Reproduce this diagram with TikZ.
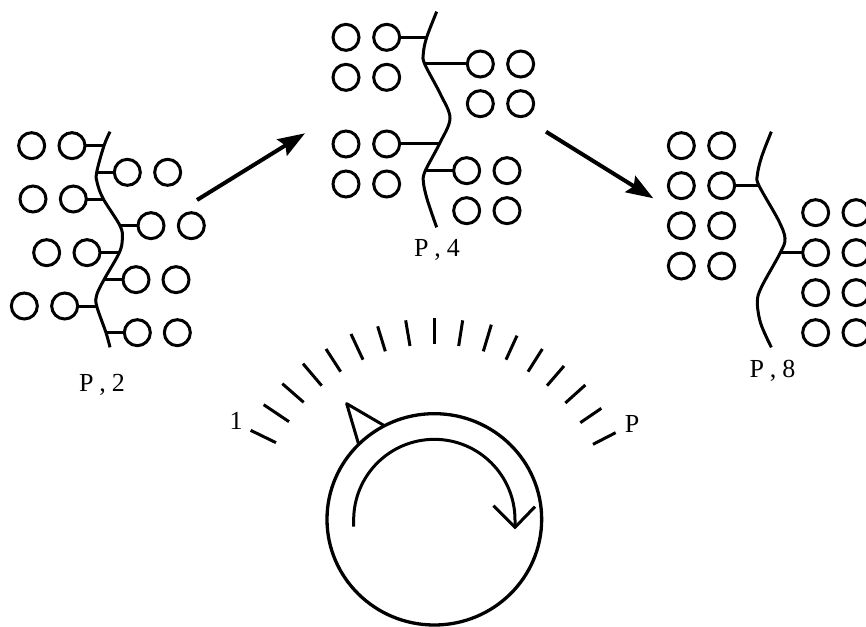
\documentclass[tikz,border=0pt]{standalone}
\usepackage{fontspec}
\setmainfont{Liberation Serif}
\usetikzlibrary{arrows.meta}
\tikzset{
  px/.style={x=1pt,y=-1pt},
  zoomed/.style={x=0.33333pt,y=-0.33333pt},
  line/.style={line width=3pt,line cap=butt,line join=round},
  ball/.style={circle,draw,line width=3pt,inner sep=0pt,outer sep=0pt,minimum size=26pt},
  lbl/.style={font=\fontsize{26}{30}\selectfont,execute at begin node={\spaceskip=6pt\relax},inner sep=0pt,anchor=base},
  bigarrow/.style={line width=4pt,-{Stealth[length=27pt,width=19pt,inset=4pt]}}
}
\begin{document}
\begin{tikzpicture}[px]
\useasboundingbox (0,0) rectangle (866,626);
% --- left panel P,2
\begin{scope}[shift={(0,120)},zoomed]
\foreach \n/\x/\y in {a1/95/77,a2/216/77,a3/382/157,a4/503/157,a5/99/237,a6/220/237,a7/453/317,a8/574/317,
  a9/140/398,a10/261/398,a11/408/479,a12/528/479,a13/73/558,a14/194/558,a15/412/638,a16/532/638}
  \node[ball] (\n) at (\x,\y) {};
\coordinate (as1) at (312,77);
\coordinate (as2) at (290,157);
\coordinate (as3) at (310,237);
\coordinate (as4) at (360,317);
\coordinate (as5) at (358,398);
\coordinate (as6) at (312,479);
\coordinate (as7) at (290,558);
\coordinate (as8) at (318,638);
\draw[line] plot[smooth,tension=0.55] coordinates {(330,35) (as1) (as2) (292,190) (as3) (as4) (367,355) (as5) (as6) (290,525) (as7) (as8) (330,682)};
\draw[line] (a2) -- (as1);
\draw[line] (as2) -- (a3);
\draw[line] (a6) -- (as3);
\draw[line] (as4) -- (a7);
\draw[line] (a10) -- (as5);
\draw[line] (as6) -- (a11);
\draw[line] (a14) -- (as7);
\draw[line] (as8) -- (a15);
\end{scope}
\node[lbl] (l2) at (102,391) {P , 2};
% --- middle panel P,4
\begin{scope}[shift={(320,0)},zoomed]
\foreach \n/\x/\y in {b1/78/112,b2/200/112,b3/78/232,b4/200/232,b5/78/432,b6/200/432,b7/78/552,b8/200/552,
  b9/481/192,b10/602/192,b11/481/311,b12/602/311,b13/440/512,b14/561/512,b15/440/632,b16/561/632}
  \node[ball] (\n) at (\x,\y) {};
\coordinate (bs1) at (320,112);
\coordinate (bs2) at (314,192);
\coordinate (bs3) at (358,432);
\coordinate (bs4) at (316,512);
\draw[line] plot[smooth,tension=0.55] coordinates {(350,35) (bs1) (310,160) (bs2) (360,280) (390,355) (bs3) (bs4) (310,545) (322,600) (350,682)};
\draw[line] (b2) -- (bs1);
\draw[line] (bs2) -- (b9);
\draw[line] (b6) -- (bs3);
\draw[line] (bs4) -- (b13);
\end{scope}
\node[lbl] (l4) at (437,256.5) {P , 4};
% --- right panel P,8
\begin{scope}[shift={(640,120)},zoomed]
\foreach \n/\x/\y in {c1/124/77,c2/245/77,c3/124/197,c4/245/197,c5/124/317,c6/245/317,c7/124/438,c8/245/438,
  c9/527/278,c10/648/278,c11/527/398,c12/648/398,c13/527/518,c14/648/518,c15/527/638,c16/648/638}
  \node[ball] (\n) at (\x,\y) {};
\coordinate (cs1) at (357,197);
\coordinate (cs2) at (421,398);
\draw[line] plot[smooth,tension=0.55] coordinates {(394,35) (365,110) (352,165) (cs1) (415,300) (435,355) (cs2) (365,500) (352,545) (362,610) (394,682)};
\draw[line] (c4) -- (cs1);
\draw[line] (cs2) -- (c11);
\end{scope}
\node[lbl] (l8) at (772.5,377) {P , 8};
% --- arrows between the panels
\coordinate (p1) at (197,200);
\coordinate (p2) at (305,133.3);
\coordinate (p3) at (546,131.7);
\coordinate (p4) at (653.3,198.3);
\draw[bigarrow] (p1) -- (p2);
\draw[bigarrow] (p3) -- (p4);
% --- dial
\begin{scope}[shift={(220,310)},zoomed]
\foreach \xa/\ya/\xb/\yb in {92/361/168/398,131/284/207/335,187/221/251/277,249/161/305/227,318/117/362/185,
  393/72/429/149,473/49/496/124,557/31/570/108,643/25/643/103,728/31/716/108,814/44/790/124,891/77/858/149,
  967/117/924/185,1032/168/981/227,1096/225/1036/279,1144/295/1081/338,1187/368/1119/403}
  \draw[line] (\xa,\ya) -- (\xb,\yb);
\draw[line,line width=3.3pt] (643,628) ellipse[x radius=322,y radius=317];
\draw[line] (416,403) -- (380,281) -- (493,347);
\draw[line] (401,650) -- (401,630) arc[start angle=180,end angle=360,radius=242] -- (885,652);
\draw[line,miter limit=10,line join=miter] (820,587) -- (885,652) -- (945,590);
\node[lbl] (one) at (48,357) {1};
\node[lbl] (pp) at (1236,368) {P};
\end{scope}
\end{tikzpicture}
\end{document}
